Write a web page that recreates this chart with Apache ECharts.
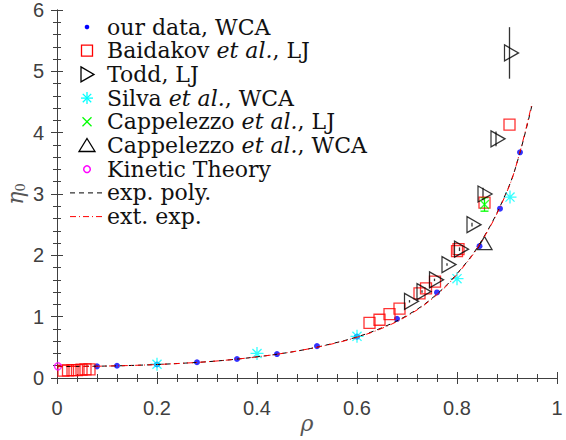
<!DOCTYPE html>
<html><head><meta charset="utf-8">
<script src="https://cdn.jsdelivr.net/npm/echarts@6/dist/echarts.min.js"></script>
<style>html,body{margin:0;padding:0;background:#fff}#c{width:566px;height:440px}</style>
</head><body><div id="c"></div>
<script>
// ---- data ----
const xTicks = [0, 0.2, 0.4, 0.6, 0.8, 1];
const yTicks = [0, 1, 2, 3, 4, 5, 6];

const ourRho = [0.08, 0.12, 0.2, 0.28, 0.36, 0.44, 0.52, 0.6, 0.68, 0.76, 0.845, 0.886, 0.926];
const ourEta = [0.19, 0.2, 0.22, 0.257, 0.31, 0.39, 0.52, 0.675, 0.965, 1.395, 2.15, 2.76, 3.68];

const baidakovRho = [0.013, 0.022, 0.031, 0.04, 0.049, 0.057, 0.065, 0.625, 0.645, 0.665, 0.685, 0.725, 0.738, 0.756, 0.8, 0.803, 0.855, 0.905];
const baidakovEta = [0.12, 0.125, 0.13, 0.13, 0.135, 0.14, 0.14, 0.9, 0.95, 1.04, 1.13, 1.38, 1.46, 1.57, 2.07, 2.1, 2.86, 4.13];

const toddRho = [0.705, 0.73, 0.755, 0.78, 0.805, 0.83, 0.852, 0.878, 0.905];
const toddEta = [1.25, 1.41, 1.6, 1.85, 2.1, 2.5, 3.0, 3.9, 5.3];
const toddErr = [0.02, 0.02, 0.02, 0.02, 0.03, 0.03, 0.1, 0.12, 0.42];

const silvaRho = [0.2, 0.4, 0.6, 0.8, 0.906];
const silvaEta = [0.224, 0.4, 0.68, 1.62, 2.95];

const cappLJRho = [0.855];
const cappLJEta = [2.83];
const cappLJErr = [0.11];

const cappWCARho = [0.855];
const cappWCAEta = [2.2];

const ktRho = [0.002];
const ktEta = [0.19];

const curveRho = [0, 0.05, 0.1, 0.15, 0.2, 0.25, 0.3, 0.35, 0.4, 0.45, 0.5, 0.55, 0.6, 0.65, 0.7, 0.75, 0.8, 0.85, 0.9, 0.925, 0.95];
const expPolyEta = [0.185, 0.19, 0.195, 0.205, 0.22, 0.24, 0.265, 0.3, 0.345, 0.4, 0.47, 0.56, 0.67, 0.82, 1.02, 1.3, 1.7, 2.25, 3.05, 3.65, 4.45];
const extExpEta = [0.19, 0.19, 0.195, 0.205, 0.22, 0.24, 0.265, 0.3, 0.345, 0.4, 0.47, 0.555, 0.665, 0.81, 1.01, 1.29, 1.69, 2.24, 3.04, 3.66, 4.48];

const legendLabels = ['our data, WCA', 'Baidakov et al., LJ', 'Todd, LJ', 'Silva et al., WCA',
  'Cappelezzo et al., LJ', 'Cappelezzo et al., WCA', 'Kinetic Theory', 'exp. poly.', 'ext. exp.'];

// ---- helpers ----
const zip = (a, b) => a.map((v, i) => [v, b[i]]);
const AX = '#404040';
const SERIF = '"DejaVu Serif", serif';
const sym = {
  rtri: 'path://M0,0 L14,8 L0,16 Z',
  utri: 'path://M7,0 L14,12 L0,12 Z',
  star: 'path://M6,0 L6,12 M0,6 L12,6 M1.8,1.8 L10.2,10.2 M1.8,10.2 L10.2,1.8',
  cross: 'path://M0,0 L10,10 M0,10 L10,0'
};

function errSeries(rho, eta, err, color, cap) {
  return {
    type: 'custom', z: 3,
    data: rho.map((r, i) => [r, eta[i] - err[i], eta[i] + err[i]]),
    renderItem: (params, api) => {
      const lo = api.coord([api.value(0), api.value(1)]);
      const hi = api.coord([api.value(0), api.value(2)]);
      const st = { stroke: color, lineWidth: 1.3 };
      const ch = [{ type: 'line', shape: { x1: lo[0], y1: lo[1], x2: hi[0], y2: Math.min(hi[1], lo[1] - 1) }, style: st }];
      if (cap) {
        ch.push({ type: 'line', shape: { x1: lo[0] - cap, y1: lo[1], x2: lo[0] + cap, y2: lo[1] }, style: st });
        ch.push({ type: 'line', shape: { x1: hi[0] - cap, y1: hi[1], x2: hi[0] + cap, y2: hi[1] }, style: st });
      }
      return { type: 'group', children: ch };
    }
  };
}

function segs(list, color, z) {
  return { type: 'group', z: z, children: list.map(s => ({ type: 'line', z: z, shape: { x1: s[0], y1: s[1], x2: s[2], y2: s[3] }, style: { stroke: color, lineWidth: 1.3 } })) };
}

function legendGraphic() {
  const els = [];
  const x0 = 87, tx = 107;
  legendLabels.forEach((lab, i) => {
    const y = 27 + i * 23.7;
    let m;
    switch (i) {
      case 0: m = { type: 'circle', shape: { cx: x0, cy: y, r: 2.3 }, style: { fill: '#0000ff' } }; break;
      case 1: m = { type: 'rect', shape: { x: x0 - 5.5, y: y - 5.5, width: 11, height: 11 }, style: { fill: 'none', stroke: '#ff0000', lineWidth: 1.3 } }; break;
      case 2: m = { type: 'polygon', shape: { points: [[x0 - 6, y - 7.5], [x0 + 7, y], [x0 - 6, y + 7.5]] }, style: { fill: 'none', stroke: '#000', lineWidth: 1.3 } }; break;
      case 3: m = segs([[x0, y - 6, x0, y + 6], [x0 - 6, y, x0 + 6, y], [x0 - 4.2, y - 4.2, x0 + 4.2, y + 4.2], [x0 - 4.2, y + 4.2, x0 + 4.2, y - 4.2]], '#00ffff', 100); break;
      case 4: m = segs([[x0 - 4.5, y - 4.5, x0 + 4.5, y + 4.5], [x0 - 4.5, y + 4.5, x0 + 4.5, y - 4.5]], '#00ff00', 100); break;
      case 5: m = { type: 'polygon', shape: { points: [[x0, y - 7], [x0 + 8, y + 6], [x0 - 8, y + 6]] }, style: { fill: 'none', stroke: '#000', lineWidth: 1.3 } }; break;
      case 6: m = { type: 'circle', shape: { cx: x0, cy: y, r: 3.3 }, style: { fill: 'none', stroke: '#ff00ff', lineWidth: 1.5 } }; break;
      case 7: m = { type: 'line', shape: { x1: 70, y1: y, x2: 104, y2: y }, style: { stroke: '#000', lineWidth: 1, lineDash: [5, 4] } }; break;
      case 8: m = { type: 'line', shape: { x1: 70, y1: y, x2: 104, y2: y }, style: { stroke: '#ff0000', lineWidth: 1, lineDash: [6, 3, 1, 3] } }; break;
    }
    m.z = 100;
    els.push(m);
    const rich = lab.replace('et al.', '{i|et al.}');
    els.push({
      type: 'text', x: tx, y: y, z: 100,
      style: {
        text: rich, fill: '#111', font: '22px ' + SERIF, verticalAlign: 'middle', align: 'left',
        rich: { i: { fontFamily: SERIF, fontStyle: 'italic', fontSize: 22, fill: '#111' } }
      }
    });
  });
  return els;
}

const axisCommon = {
  axisLine: { show: true, lineStyle: { color: AX, width: 1 } },
  axisTick: { show: true, inside: false, length: 6, lineStyle: { color: AX } },
  minorTick: { show: true, splitNumber: 5, length: 4, lineStyle: { color: AX } },
  splitLine: { show: false },
};

const chart = echarts.init(document.getElementById('c'), null, { renderer: 'svg' });
chart.setOption({
  animation: false,
  backgroundColor: '#fff',
  grid: { left: 57, right: 9, top: 10, bottom: 62, containLabel: false, outerBoundsMode: 'none' },
  xAxis: [
    Object.assign({}, axisCommon, {
      type: 'value', position: 'bottom', min: xTicks[0], max: xTicks[xTicks.length - 1], interval: 0.2,
      axisLabel: { color: AX, fontSize: 20, fontFamily: '"Liberation Sans", Arial, sans-serif', margin: 20 },
      name: 'ρ', nameLocation: 'middle', nameGap: 34, nameMoveOverlap: false,
      nameTextStyle: { color: '#555', fontFamily: SERIF, fontStyle: 'italic', fontSize: 22 }
    }),
    Object.assign({}, axisCommon, {
      type: 'value', position: 'top', min: xTicks[0], max: xTicks[xTicks.length - 1], interval: 0.2,
      axisLabel: { show: false }
    })
  ],
  yAxis: [
    Object.assign({}, axisCommon, {
      type: 'value', position: 'left', min: yTicks[0], max: yTicks[yTicks.length - 1], interval: 1,
      axisLabel: { color: AX, fontSize: 20, fontFamily: '"Liberation Sans", Arial, sans-serif', margin: 13 },
      name: '{a|η}{b|0}', nameLocation: 'middle', nameGap: 30, nameRotate: 90, nameMoveOverlap: false,
      nameTextStyle: {
        color: '#555',
        rich: {
          a: { fontFamily: SERIF, fontStyle: 'italic', fontSize: 22, color: '#555' },
          b: { fontFamily: SERIF, fontSize: 13, color: '#555', padding: [10, 0, 0, 0] }
        }
      }
    }),
    Object.assign({}, axisCommon, {
      type: 'value', position: 'right', min: yTicks[0], max: yTicks[yTicks.length - 1], interval: 1,
      axisLabel: { show: false }
    })
  ],
  graphic: legendGraphic(),
  series: [
    { name: legendLabels[0], type: 'scatter', z: 2, data: zip(ourRho, ourEta), symbol: 'circle', symbolSize: 6,
      itemStyle: { color: '#0000ff' } },
    { name: legendLabels[1], type: 'scatter', z: 3, data: zip(baidakovRho, baidakovEta), symbol: 'rect', symbolSize: 11,
      itemStyle: { color: 'rgba(0,0,0,0)', borderColor: '#ff0000', borderWidth: 1.3 } },
    { name: legendLabels[2], type: 'scatter', z: 3, data: zip(toddRho, toddEta), symbol: sym.rtri, symbolSize: [14, 16], symbolOffset: [2, 0],
      itemStyle: { color: 'rgba(0,0,0,0)', borderColor: '#000', borderWidth: 1.3 } },
    errSeries(toddRho, toddEta, toddErr, '#333', 0),
    { name: legendLabels[3], type: 'scatter', z: 4, data: zip(silvaRho, silvaEta), symbol: sym.star, symbolSize: 13,
      itemStyle: { color: 'rgba(0,0,0,0)', borderColor: '#00ffff', borderWidth: 1.3 } },
    { name: legendLabels[4], type: 'scatter', z: 4, data: zip(cappLJRho, cappLJEta), symbol: sym.cross, symbolSize: 9,
      itemStyle: { color: 'rgba(0,0,0,0)', borderColor: '#00ff00', borderWidth: 1.3 } },
    errSeries(cappLJRho, cappLJEta, cappLJErr, '#00ff00', 4),
    { name: legendLabels[5], type: 'scatter', z: 4, data: zip(cappWCARho, cappWCAEta), symbol: sym.utri, symbolSize: [15, 13],
      itemStyle: { color: 'rgba(0,0,0,0)', borderColor: '#000', borderWidth: 1.3 } },
    { name: legendLabels[6], type: 'scatter', z: 4, data: zip(ktRho, ktEta), symbol: 'circle', symbolSize: 7,
      itemStyle: { color: 'rgba(0,0,0,0)', borderColor: '#ff00ff', borderWidth: 1.5 } },
    { name: legendLabels[7], type: 'line', z: 5, data: zip(curveRho, expPolyEta), symbol: 'none', smooth: 0.4,
      lineStyle: { color: '#000', width: 1, type: [5, 4] } },
    { name: legendLabels[8], type: 'line', z: 6, data: zip(curveRho, extExpEta), symbol: 'none', smooth: 0.4,
      lineStyle: { color: '#ff0000', width: 1, type: [6, 3, 1, 3] } }
  ]
});
</script></body></html>
